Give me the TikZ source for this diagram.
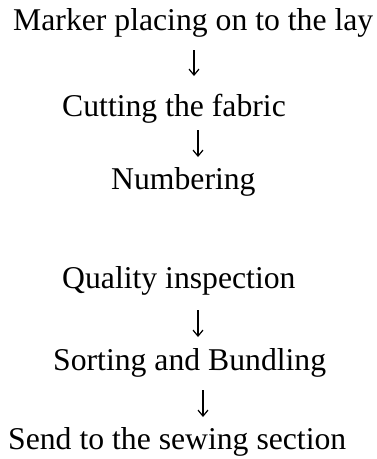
\documentclass[tikz,border=0pt]{standalone}
\usepackage{fontspec}
\setmainfont{Liberation Serif}
\usetikzlibrary{arrows.meta}
\begin{document}
\begin{tikzpicture}[x=1pt,y=-1pt,
  stage/.style={anchor=base west,inner sep=0pt,font=\fontsize{31.7}{38}\selectfont},
  flow/.style={line width=1.2pt,-{Straight Barb[length=6pt,width=10pt,line width=1.2pt]}}]
\useasboundingbox (0,0) rectangle (377,459);
% process stages
\node[stage] (s1) at (13,30)  {Marker placing on to the lay};
\node[stage] (s2) at (62,116) {Cutting the fabric};
\node[stage] (s3) at (111,189) {Numbering};
\node[stage] (s4) at (62,288) {Quality inspection};
\node[stage] (s5) at (53,370) {Sorting and Bundling};
\node[stage] (s6) at (8,449)  {Send to the sewing section};
% arrow ends
\coordinate (t1) at (194,50);  \coordinate (h1) at (194,76);
\coordinate (t2) at (198,130); \coordinate (h2) at (198,157);
\coordinate (t3) at (198,310); \coordinate (h3) at (198,337);
\coordinate (t4) at (203,390); \coordinate (h4) at (203,417);
\draw[flow] (t1) -- (h1);
\draw[flow] (t2) -- (h2);
\draw[flow] (t3) -- (h3);
\draw[flow] (t4) -- (h4);
\end{tikzpicture}
\end{document}
